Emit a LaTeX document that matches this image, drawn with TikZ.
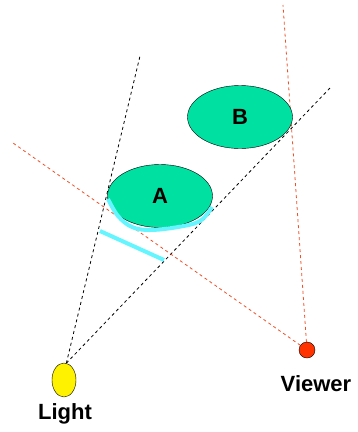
\documentclass[tikz,border=0pt]{standalone}
\usepackage{fontspec}
\setsansfont{Liberation Sans}
\usetikzlibrary{shapes.geometric}
\definecolor{objgreen}{RGB}{0,224,160}
\definecolor{viewred}{RGB}{255,51,0}
\definecolor{raysred}{RGB}{240,80,40}
\definecolor{shadowcyan}{RGB}{100,245,255}
\tikzset{
    obj/.style={ellipse, draw, fill=objgreen, minimum width=105pt, minimum height=63pt, inner sep=0pt, font=\sffamily\bfseries\fontsize{22}{22}\selectfont},
    lbl/.style={font=\sffamily\bfseries\fontsize{22}{22}\selectfont},
    lightray/.style={black, line width=0.8pt, dash pattern=on 3pt off 3pt},
    viewray/.style={raysred, line width=0.8pt, dash pattern=on 3pt off 3pt},
    shadowline/.style={shadowcyan, line width=4pt}
}
\begin{document}
\begin{tikzpicture}[x=1pt, y=-1pt]
    \useasboundingbox (0,0) rectangle (357,432);

    % Light and viewer
    \node[ellipse, draw, fill=yellow, minimum width=24pt, minimum height=34pt, inner sep=0pt] (light) at (64,380) {};
    \node[lbl] (lightlbl) at (65,414) {Light};
    \node[circle, draw, fill=viewred, minimum size=16pt, inner sep=0pt] (viewer) at (307,350) {};
    \node[lbl] (viewerlbl) at (316,384) {Viewer};

    % Rays from the light
    \coordinate (l1) at (140,56);
    \coordinate (l2) at (330,88);
    \draw[lightray] (light.82) -- (l1);
    \draw[lightray] (light.82) -- (l2);

    % Rays to the viewer
    \coordinate (v1) at (283,5);
    \coordinate (v2) at (13,143);
    \draw[viewray] (viewer) -- (v1);
    \draw[viewray] (viewer) -- (v2);

    % Objects
    \node[obj] (A) at (160,196) {A};
    \node[obj] (B) at (240,117) {B};

    % Lit part of A and its shadow
    \draw[shadowline] plot[smooth, tension=0.6] coordinates {(108,199) (118,216) (132,227) (150,230) (178,227) (200,221) (212,207)};
    \coordinate (s1) at (100,231);
    \coordinate (s2) at (164,260);
    \draw[shadowline] (s1) -- (s2);
\end{tikzpicture}
\end{document}
